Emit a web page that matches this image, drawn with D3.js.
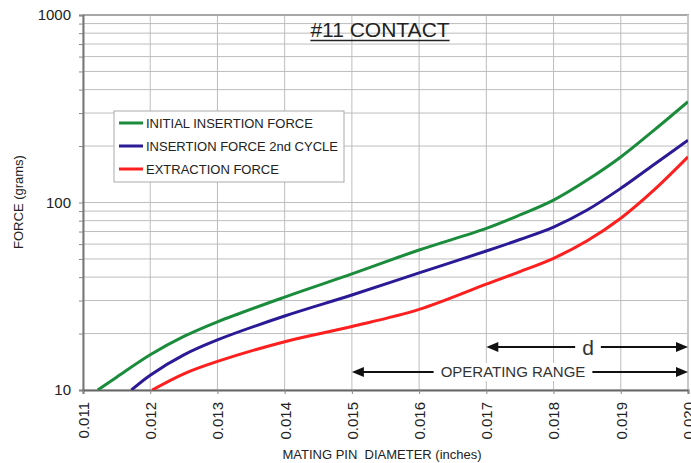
<!DOCTYPE html>
<html>
<head>
<meta charset="utf-8">
<script src="https://cdn.jsdelivr.net/npm/d3@7"></script>
<style>
  body { margin: 0; background: #fff; }
  svg { display: block; font-family: "Liberation Sans", Arial, sans-serif; }
</style>
</head>
<body>
<svg id="chart" width="691" height="463"></svg>
<script>
// series names and colours
var seriesNames = ["INITIAL INSERTION FORCE", "INSERTION FORCE 2nd CYCLE", "EXTRACTION FORCE"];
var seriesColors = ["#1a8c3c", "#2a1a96", "#ff1f1f"];

// mating pin diameter (inches) / force (grams)
var initialD = [0.01122, 0.0115, 0.012, 0.0125, 0.013, 0.014, 0.015, 0.016, 0.017, 0.0175, 0.018, 0.0185, 0.019, 0.0195, 0.020];
var initialF = [10, 11.7, 15.4, 19.3, 23.1, 31.3, 41.6, 55.8, 72.8, 85.8, 103, 131.8, 175, 244, 345];

var secondD = [0.01172, 0.012, 0.0125, 0.013, 0.014, 0.015, 0.016, 0.017, 0.0175, 0.018, 0.0185, 0.019, 0.0195, 0.020];
var secondF = [10, 12.0, 15.4, 18.5, 24.8, 32.1, 42.1, 55.1, 63.5, 74, 91.2, 119, 160, 215];

var extractD = [0.01203, 0.0125, 0.013, 0.014, 0.015, 0.016, 0.017, 0.0175, 0.018, 0.0185, 0.019, 0.0195, 0.020];
var extractF = [10, 12.2, 14.2, 18.1, 21.8, 26.9, 36.7, 42.8, 50.4, 62.5, 82.4, 117, 175];

// axis ticks
var xTicks = [0.011, 0.012, 0.013, 0.014, 0.015, 0.016, 0.017, 0.018, 0.019, 0.020];
var yLabels = [10, 100, 1000];
var yTicks = [10, 20, 30, 40, 50, 60, 70, 80, 90, 100, 200, 300, 400, 500, 600, 700, 800, 900, 1000];

// annotation ranges
var dRange = [0.017, 0.020];
var operRange = [0.015, 0.020];

var svg = d3.select("#chart");
var pLeft = 83, pRight = 688, pTop = 15, pBottom = 390;

var x = d3.scaleLinear().domain([0.011, 0.020]).range([pLeft, pRight]);
var y = d3.scaleLog().domain([10, 1000]).range([pBottom, pTop]);

// grid
svg.append("g").selectAll("line").data(yTicks).enter().append("line")
    .attr("x1", pLeft).attr("x2", pRight)
    .attr("y1", function (d) { return y(d); }).attr("y2", function (d) { return y(d); })
    .attr("stroke", "#bdbdbd").attr("stroke-width", 1);
svg.append("g").selectAll("line").data(xTicks).enter().append("line")
    .attr("x1", function (d) { return x(d); }).attr("x2", function (d) { return x(d); })
    .attr("y1", pTop).attr("y2", pBottom)
    .attr("stroke", "#bdbdbd").attr("stroke-width", 1);

// frame
svg.append("line").attr("x1", pLeft).attr("x2", pRight + 1).attr("y1", pTop).attr("y2", pTop)
    .attr("stroke", "#a8a8a8").attr("stroke-width", 2);
svg.append("line").attr("x1", pRight).attr("x2", pRight).attr("y1", pTop).attr("y2", pBottom)
    .attr("stroke", "#c8c8c8").attr("stroke-width", 2);

// y axis
var yAxis = d3.axisLeft(y).tickValues(yTicks).tickSize(4).tickPadding(8)
    .tickFormat(function (d) { return yLabels.indexOf(d) >= 0 ? d : ""; });
var gy = svg.append("g").attr("transform", "translate(" + pLeft + ",0)").call(yAxis);
gy.select(".domain").attr("stroke", "#777").attr("stroke-width", 2);
gy.selectAll(".tick line").attr("stroke", "#888");
gy.selectAll("text").attr("font-size", 15).attr("fill", "#222")
    .attr("font-family", "Liberation Sans, Arial, sans-serif");

// x axis
var xAxis = d3.axisBottom(x).tickValues(xTicks).tickSize(4).tickFormat(d3.format(".3f"));
var gx = svg.append("g").attr("transform", "translate(0," + pBottom + ")").call(xAxis);
gx.select(".domain").attr("stroke", "#666").attr("stroke-width", 2);
gx.selectAll(".tick line").attr("stroke", "#888");
gx.selectAll("text")
    .attr("transform", "rotate(-90)")
    .attr("x", -12).attr("y", 0).attr("dy", "0.36em")
    .attr("text-anchor", "end")
    .attr("font-size", 15).attr("fill", "#222")
    .attr("font-family", "Liberation Sans, Arial, sans-serif");

// curves
var series = [
    { d: initialD, f: initialF },
    { d: secondD, f: secondF },
    { d: extractD, f: extractF }
];
var line = d3.line()
    .x(function (p) { return x(p[0]); })
    .y(function (p) { return y(p[1]); })
    .curve(d3.curveCatmullRom.alpha(0.5));

svg.append("clipPath").attr("id", "plotclip").append("rect")
    .attr("x", pLeft).attr("y", pTop - 2).attr("width", pRight - pLeft).attr("height", pBottom - pTop + 2);

for (var i = 0; i < series.length; i++) {
    var pts = d3.zip(series[i].d, series[i].f);
    svg.append("path").datum(pts)
        .attr("d", line)
        .attr("fill", "none")
        .attr("stroke", seriesColors[i])
        .attr("stroke-width", 3)
        .attr("clip-path", "url(#plotclip)");
}

// legend
var leg = svg.append("g");
leg.append("rect").attr("x", 114).attr("y", 111).attr("width", 230).attr("height", 71)
    .attr("fill", "#fff").attr("stroke", "#aaa").attr("stroke-width", 1);
seriesNames.forEach(function (name, i) {
    var ly = 123 + i * 23;
    leg.append("line").attr("x1", 119).attr("x2", 143).attr("y1", ly).attr("y2", ly)
        .attr("stroke", seriesColors[i]).attr("stroke-width", 3);
    leg.append("text").attr("x", 146).attr("y", ly).attr("dy", "0.36em")
        .attr("font-size", 13).attr("fill", "#222").text(name);
});

// title
var title = svg.append("text").attr("x", 380).attr("y", 37).attr("text-anchor", "middle")
    .attr("font-size", 21).attr("fill", "#222").text("#11 CONTACT");
var tw = title.node().getComputedTextLength();
svg.append("line").attr("x1", 380 - tw / 2).attr("x2", 380 + tw / 2).attr("y1", 40.5).attr("y2", 40.5)
    .attr("stroke", "#222").attr("stroke-width", 1.5);

// axis titles
svg.append("text").attr("x", 382).attr("y", 459).attr("text-anchor", "middle")
    .attr("font-size", 13).attr("fill", "#222")
    .style("white-space", "pre").text("MATING PIN  DIAMETER (inches)");
svg.append("text").attr("transform", "translate(23,202) rotate(-90)").attr("text-anchor", "middle")
    .attr("font-size", 13).attr("fill", "#222").text("FORCE (grams)");

// arrows
function arrowHead(xp, yp, dir) {
    svg.append("polygon")
        .attr("points", xp + "," + yp + " " + (xp - dir * 12) + "," + (yp - 5) + " " + (xp - dir * 12) + "," + (yp + 5))
        .attr("fill", "#111");
}
function rangeArrow(r, yp, label, size, cx) {
    var x0 = x(r[0]), x1 = x(r[1]);
    svg.append("line").attr("x1", x0 + 4).attr("x2", x1 - 4).attr("y1", yp).attr("y2", yp)
        .attr("stroke", "#111").attr("stroke-width", 2);
    arrowHead(x0, yp, -1);
    arrowHead(x1, yp, 1);
    var g = svg.append("g");
    var bg = g.append("rect").attr("fill", "#fff");
    var t = g.append("text").attr("x", cx).attr("y", yp).attr("dy", "0.36em")
        .attr("text-anchor", "middle").attr("font-size", size).attr("fill", "#333").text(label);
    var w = t.node().getComputedTextLength();
    bg.attr("x", cx - w / 2 - 7).attr("y", yp - size * 0.6)
        .attr("width", w + 14).attr("height", size * 1.2);
}
rangeArrow(dRange, 347, "d", 21, 588);
rangeArrow(operRange, 372, "OPERATING RANGE", 15, 513);
</script>
</body>
</html>
